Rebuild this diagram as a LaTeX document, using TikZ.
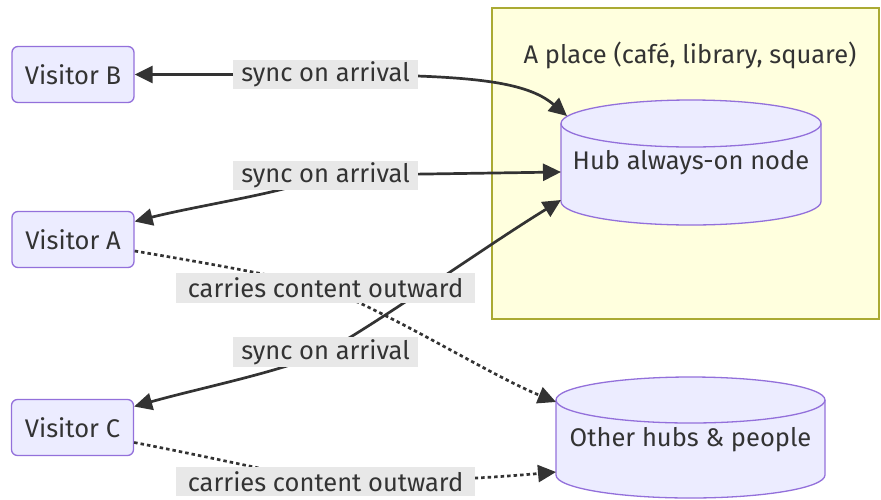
\documentclass[tikz,border=0pt]{standalone}
\usepackage{fontspec}
\setmainfont{Fira Sans}
\usetikzlibrary{arrows.meta}
\definecolor{nodefill}{HTML}{ECECFF}
\definecolor{nodeline}{HTML}{9370DB}
\definecolor{clfill}{HTML}{FFFFDE}
\definecolor{clline}{HTML}{AAAA33}
\definecolor{lblfill}{HTML}{E8E8E8}
\definecolor{ink}{HTML}{333333}
\newcommand\mycyl[5]{% cx, rx, ytop, ybot, ry
  \fill[nodefill] ({#1-#2},#3) -- ({#1-#2},#4) arc[start angle=180,end angle=0,x radius=#2,y radius=#5]
     -- ({#1+#2},#3) arc[start angle=0,end angle=-180,x radius=#2,y radius=#5] -- cycle;
  \draw[nodeline,line width=1.3pt] ({#1-#2},#3) -- ({#1-#2},#4) arc[start angle=180,end angle=0,x radius=#2,y radius=#5] -- ({#1+#2},#3);
  \draw[nodeline,line width=1.3pt] (#1,#3) ellipse[x radius=#2,y radius=#5];
}
\begin{document}
\begin{tikzpicture}[x=1pt,y=-1pt,
  every node/.style={font=\fontsize{25.5}{30}\selectfont, text=ink},
  visitor/.style={draw=nodeline, fill=nodefill, line width=1.3pt, rounded corners=6pt,
    minimum width=122pt, minimum height=56pt, inner sep=0pt},
  lbl/.style={fill=lblfill, inner sep=0pt, minimum height=29.5pt},
  synclbl/.style={lbl, minimum width=185pt},
  carrylbl/.style={lbl, minimum width=299pt},
  conn/.style={draw=ink, line width=2.7pt},
  twoway/.style={arrows={Triangle[length=18pt,width=17pt]-Triangle[length=18pt,width=17pt]}},
  oneway/.style={arrows={-Triangle[length=18pt,width=17pt]}},
  dotline/.style={dash pattern=on 3.5pt off 3pt}
]
\useasboundingbox (0,0) rectangle (881,499);
% cluster
\draw[fill=clfill, draw=clline, line width=1.3pt] (492,8) rectangle (879,319);
\node (title) at (690,55) {A place (café, library, square)};
% cylinders
\mycyl{691}{130}{123.5}{201.5}{23.5}
\node (hub) at (691,163) {Hub always-on node};
\mycyl{690.5}{134.5}{400}{475}{23}
\node (other) at (690.5,440) {Other hubs \& people};
\coordinate (hubB) at (567,116);
\coordinate (hubA) at (561,172);
\coordinate (hubC) at (561,200);
\coordinate (ot1) at (556,402);
\coordinate (ot2) at (556,472);
% visitors
\node[visitor] (vb) at (73,74.5) {Visitor B};
\node[visitor] (va) at (73,239.5) {Visitor A};
\node[visitor] (vc) at (72.5,427.5) {Visitor C};
% label positions
\coordinate (l1) at (325.5,74.5);
\coordinate (l2) at (325.5,175.5);
\coordinate (l3) at (325.5,352);
\coordinate (l4) at (325.5,288);
\coordinate (l5) at (325.5,481.5);
% connectors
\draw[conn,twoway] (vb.east) -- (l1) .. controls (465,75) and (525,80) .. (hubB);
\draw[conn,twoway] (hubA) -- (l2) .. controls (290,192) and (200,205) .. ([yshift=18pt]va.east);
\draw[conn,twoway] (hubC) .. controls (480,250) and (390,315) .. (l3) .. controls (280,372) and (200,388) .. ([yshift=21pt]vc.east);
\draw[conn,dotline,oneway] ([yshift=-11.5pt]va.east) .. controls (200,262) and (275,275) .. (l4) .. controls (400,318) and (490,375) .. (ot1);
\draw[conn,dotline,oneway] ([yshift=-15pt]vc.east) .. controls (200,455) and (265,470) .. (l5) .. controls (440,482) and (510,476) .. (ot2);
% labels
\node[synclbl] (L1) at (l1) {sync on arrival};
\node[synclbl] (L2) at (l2) {sync on arrival};
\node[synclbl] (L3) at (l3) {sync on arrival};
\node[carrylbl] (L4) at (l4) {carries content outward};
\node[carrylbl] (L5) at (l5) {carries content outward};
\end{tikzpicture}
\end{document}
